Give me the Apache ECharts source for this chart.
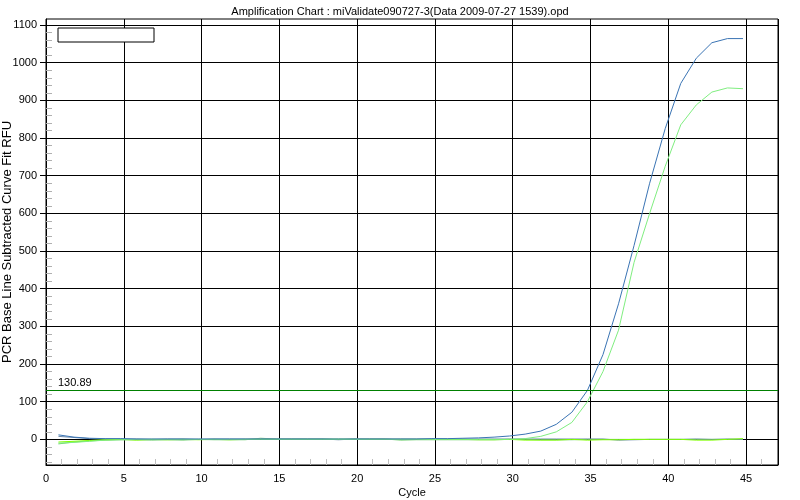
<!DOCTYPE html>
<html><head><meta charset="utf-8">
<script src="https://cdn.jsdelivr.net/npm/echarts@6/dist/echarts.min.js"></script>
<style>html,body{margin:0;padding:0;background:#fff}#c{width:800px;height:500px}</style>
</head><body><div id="c"></div>
<script>
// ---- data ----
const cycles = [0.8,1.8,2.8,3.8,4.8,5.8,6.8,7.8,8.8,9.8,10.8,11.8,12.8,13.8,14.8,15.8,16.8,17.8,18.8,19.8,20.8,21.8,22.8,23.8,24.8,25.8,26.8,27.8,28.8,29.8,30.8,31.8,32.8,33.8,34.8,35.8,36.8,37.8,38.8,39.8,40.8,41.8,42.8,43.8,44.8];
const wellBlue = [12,6,3,2,2,1,1,1,1,1,1,1,1,1,1,1,1,1,1,1,1,1,1,1,2,2,3,4,6,9,14,22,40,72,130,225,360,515,680,825,945,1012,1053,1064,1064];
const wellGreen = [-10,-8,-5,-2,-1,0,0,0,0,0,0,0,0,0,0,0,0,0,0,0,0,0,0,0,0,0,0,0,0,0,2,8,20,45,100,180,290,470,600,725,835,888,922,933,931];
const baseLime = [-7,-5,-3,-1,0,-2,0,-1,0,-1,0,-1,0,0,0,0,0,0,0,0,0,0,0,0,0,0,0,-1,-1,0,-2,-2,-2,0,-2,-1,-1,0,0,0,0,-2,-2,0,2];
const baseSlate = [8,5,2,1,1,1,0,1,1,0,1,1,1,1,1,1,1,1,-1,1,1,1,1,1,1,1,1,1,1,1,1,1,1,1,1,1,-2,-1,0,0,0,1,0,1,0];
const baseMint = [-12,-7,-4,-2,-1,-1,-2,-1,-2,0,-1,-1,-1,3,1,1,1,1,1,1,1,1,-2,-1,-1,-1,-1,-1,-1,0,0,-1,-1,-1,0,0,0,0,0,0,0,0,0,0,0];
const threshold = [130.89];
const xTickLabels = [0,5,10,15,20,25,30,35,40,45];
const yTickLabels = [0,100,200,300,400,500,600,700,800,900,1000,1100];
const xMinor = [1,2,3,4,6,7,8,9,11,12,13,14,16,17,18,19,21,22,23,24,26,27,28,29,31,32,33,34,36,37,38,39,41,42,43,44,46];
const yMinor = [-60,-40,-20,20,40,60,80,120,140,160,180,220,240,260,280,320,340,360,380,420,440,460,480,520,540,560,580,620,640,660,680,720,740,760,780,820,840,860,880,920,940,960,980,1020,1040,1060,1080];

const pts = a => cycles.map((c,i)=>[c,a[i]]);
const FONT = 'Liberation Sans, Arial, sans-serif';
const X_MIN = 0, X_MAX = 47.05, Y_MIN = -68, Y_MAX = 1116;
const plain = v => String(v);

const chart = echarts.init(document.getElementById('c'), null, {renderer:'canvas'});
chart.setOption({
  animation:false,
  backgroundColor:'#fff',
  title:{text:'Amplification Chart : miValidate090727-3(Data 2009-07-27 1539).opd', left:'center', top:1,
    textStyle:{fontFamily:FONT, fontSize:11, fontWeight:'normal', color:'#000'}},
  grid:{left:46, right:22, top:19, bottom:35, show:true, borderColor:'#000', borderWidth:1,
    backgroundColor:'#fff', containLabel:false, outerBoundsMode:'none'},
  xAxis:[{
    type:'value', min:X_MIN, max:X_MAX, interval:5, position:'bottom',
    name:'Cycle', nameLocation:'middle', nameGap:22, nameMoveOverlap:false,
    nameTextStyle:{fontFamily:FONT, fontSize:11, color:'#000'},
    axisLine:{show:true, onZero:false, lineStyle:{color:'#000'}},
    axisTick:{show:false},
    axisLabel:{fontFamily:FONT, fontSize:11, color:'#000', margin:8,
      customValues:xTickLabels, formatter:plain},
    splitLine:{show:true, lineStyle:{color:'#000', width:1}}
  },{
    type:'value', min:X_MIN, max:X_MAX, position:'bottom',
    axisLine:{show:false, onZero:false}, axisLabel:{show:false}, splitLine:{show:false},
    axisTick:{show:true, inside:true, length:6, customValues:xMinor, lineStyle:{color:'#c0c0c0'}}
  }],
  yAxis:[{
    type:'value', min:Y_MIN, max:Y_MAX, position:'left',
    name:'PCR Base Line Subtracted Curve Fit RFU', nameLocation:'middle', nameGap:32, nameMoveOverlap:false,
    nameTextStyle:{fontFamily:FONT, fontSize:13, color:'#000'},
    axisLine:{show:true, onZero:false, lineStyle:{color:'#000'}},
    axisTick:{show:true, length:6, customValues:yTickLabels, lineStyle:{color:'#000'}},
    axisLabel:{fontFamily:FONT, fontSize:11, color:'#000', margin:9, customValues:yTickLabels, formatter:plain},
    splitLine:{show:true, lineStyle:{color:'#000', width:1}}
  },{
    type:'value', min:Y_MIN, max:Y_MAX, position:'left',
    axisLine:{show:false, onZero:false}, axisLabel:{show:false}, splitLine:{show:false},
    axisTick:{show:true, inside:true, length:6, customValues:yMinor, lineStyle:{color:'#b0b0b0'}}
  }],
  graphic:[{type:'rect', shape:{x:58, y:28, width:96, height:14}, style:{fill:'#fff', stroke:'#000', lineWidth:1}, z:100}],
  series:[
    {type:'line', data:pts(baseMint), symbol:'none', lineStyle:{color:'#70d070', width:1}, z:2},
    {type:'line', data:pts(baseSlate), symbol:'none', lineStyle:{color:'#6a88aa', width:1}, z:2},
    {type:'line', data:pts(baseLime), symbol:'none', lineStyle:{color:'#80ff00', width:1}, z:2},
    {type:'line', data:pts(wellGreen), symbol:'none', lineStyle:{color:'#80ee80', width:1}, z:3},
    {type:'line', data:pts(wellBlue), symbol:'none', lineStyle:{color:'#3a74b4', width:1}, z:4,
      markLine:{silent:true, symbol:'none', animation:false,
        lineStyle:{color:'#008000', width:1, type:'solid'},
        label:{show:true, position:'insideStartTop', formatter:String(threshold[0]), fontFamily:FONT, fontSize:11, color:'#000', distance:[12,2]},
        data:threshold.map(v=>({yAxis:v}))}}
  ]
});
</script></body></html>
